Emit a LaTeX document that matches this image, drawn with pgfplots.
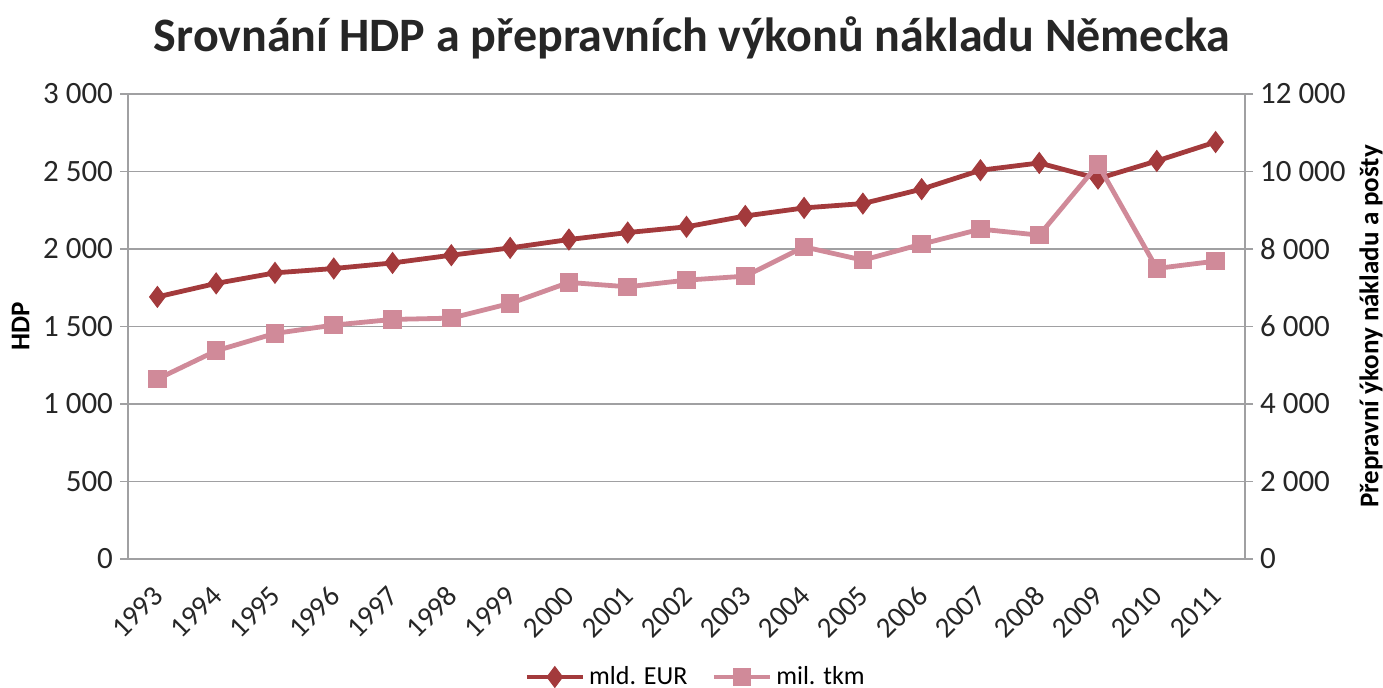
\documentclass[border=0pt]{standalone}
\usepackage{fontspec}
\setmainfont{Carlito}
\usepackage{pgfplots}
\usepackage{pgfplotstable}
\pgfplotsset{compat=1.18}

\definecolor{eurc}{RGB}{163,58,60}
\definecolor{tkmc}{RGB}{208,138,153}
\definecolor{gridc}{RGB}{160,160,162}

% year index, GDP (mld. EUR), freight (mil. tkm)
\pgfplotstableread{
i year eur tkm
0 1993 1691 4643
1 1994 1778 5373
2 1995 1846 5821
3 1996 1874 6036
4 1997 1910 6182
5 1998 1960 6216
6 1999 2007 6595
7 2000 2061 7137
8 2001 2106 7024
9 2002 2143 7196
10 2003 2213 7299
11 2004 2265 8055
12 2005 2293 7712
13 2006 2386 8125
14 2007 2508 8512
15 2008 2555 8357
16 2009 2454 10180
17 2010 2568 7498
18 2011 2690 7686
}\data

\pgfplotsset{
  base/.style={
    scale only axis, width=558.5pt, height=232.5pt,
    at={(0,0)}, anchor=south west,
    xmin=-0.5, xmax=18.5,
    scaled y ticks=false,
    /pgf/number format/assume math mode=true,
    /pgf/number format/1000 sep={\ },
    tick label style={font=\fontsize{15.5}{17}\selectfont, text=black!85},
    axis line style={gridc, line width=0.8pt, -},
    tick align=outside, major tick length=4pt,
    y tick style={gridc, line width=0.8pt},
    x tick style={draw=none},
  },
  eurline/.style={eurc, line width=2.4pt, mark=diamond*, mark size=5.2pt,
    mark options={fill=eurc, draw=eurc, line width=0.5pt}},
  tkmline/.style={tkmc, line width=2.4pt, mark=square*, mark size=4.4pt,
    mark options={fill=tkmc, draw=tkmc, line width=0.5pt}},
}

\begin{document}
\begin{tikzpicture}
\path[use as bounding box] (-64pt,-64.5pt) rectangle (627.5pt,279.5pt);

\begin{axis}[base,
  ymin=0, ymax=3000, ytick distance=500,
  axis x line*=bottom, axis y line*=left,
  ymajorgrids, grid style={gridc, line width=0.7pt},
  xtick={0,...,18},
  xticklabels={1993,1994,1995,1996,1997,1998,1999,2000,2001,2002,2003,2004,2005,2006,2007,2008,2009,2010,2011},
  xticklabel style={font=\fontsize{14.5}{16}\selectfont, xshift=-3pt, yshift=-7pt, rotate=45, anchor=north east, inner sep=1pt},
  ylabel={HDP},
  ylabel style={font=\bfseries\fontsize{13.5}{15}\selectfont},
]
\addplot[eurline] table[x=i, y=eur] {\data};
\end{axis}

\begin{axis}[base,
  ymin=0, ymax=12000, ytick distance=2000,
  axis x line=none, axis y line*=right,
  ylabel={Přepravní ýkony nákladu a pošty},
  ylabel style={font=\bfseries\fontsize{13.5}{15}\selectfont},
  legend style={draw=none, fill=none, at={(0.509,-0.2538)}, anchor=center,
    legend columns=2, font=\fontsize{13}{15}\selectfont,
    /tikz/every even column/.append style={column sep=10pt}},
  legend image code/.code={
    \draw[mark repeat=2, mark phase=2, #1] plot coordinates {(0pt,0pt) (14pt,0pt) (28pt,0pt)};},
]
\addlegendimage{eurline}
\addlegendentry{mld. EUR}
\addplot[tkmline] table[x=i, y=tkm] {\data};
\addlegendentry{mil. tkm}
\end{axis}

\node[font=\bfseries\fontsize{24}{28}\selectfont, text=black!85] at (282pt,260.5pt)
  {Srovnání HDP a přepravních výkonů nákladu Německa};
\end{tikzpicture}
\end{document}
